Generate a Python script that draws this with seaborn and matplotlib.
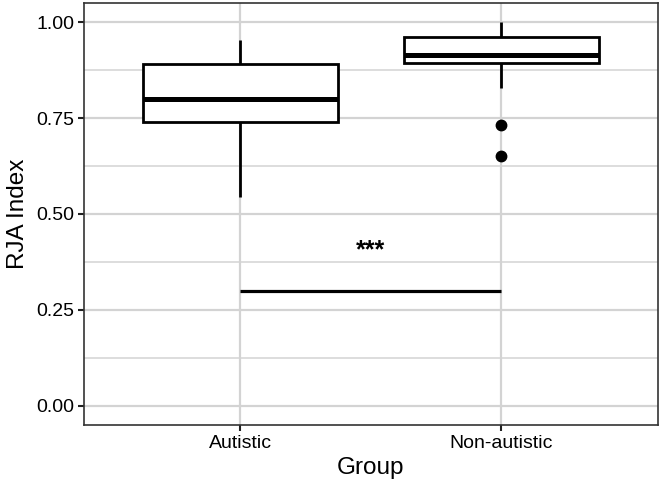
import pandas as pd
import matplotlib
matplotlib.use('Agg')
import matplotlib.pyplot as plt
from matplotlib.ticker import MultipleLocator
import seaborn as sns

# Data
groups = ['Autistic', 'Non-autistic']
autistic = [0.545, 0.68, 0.74, 0.77, 0.80, 0.85, 0.89, 0.92, 0.953]
non_autistic = [0.652, 0.733, 0.829, 0.894, 0.90, 0.91, 0.915, 0.93, 0.95,
                0.962, 0.97, 0.985, 1.0]
sig_y = 0.30
sig_label = '***'

df = pd.DataFrame({
    'Group': [groups[0]] * len(autistic) + [groups[1]] * len(non_autistic),
    'RJA': autistic + non_autistic,
})

sns.set_theme(style='white')
plt.rcParams['font.family'] = ['Liberation Sans', 'DejaVu Sans']

fig = plt.figure(figsize=(6.6, 4.88), dpi=100)
ax = fig.add_axes([0.127, 0.129, 0.870, 0.865])

sns.boxplot(data=df, x='Group', y='RJA', order=groups, ax=ax,
            width=0.75, color='white', saturation=1, linecolor='black',
            linewidth=2.0, showcaps=False,
            medianprops=dict(linewidth=3.6, color='black'),
            flierprops=dict(marker='o', markersize=7.5, markerfacecolor='black',
                            markeredgecolor='black'))

# significance bar
ax.plot([0, 1], [sig_y, sig_y], color='black', lw=2.3, solid_capstyle='butt')
ax.text(0.5, sig_y + 0.105, sig_label, ha='center', va='center',
        fontsize=18, fontweight='bold', color='black')

ax.set_xlim(-0.6, 1.6)
ax.set_ylim(-0.05, 1.05)
ax.yaxis.set_major_locator(MultipleLocator(0.25))
ax.yaxis.set_minor_locator(MultipleLocator(0.125))
ax.set_yticks([0, 0.25, 0.5, 0.75, 1.0])
ax.set_yticklabels(['0.00', '0.25', '0.50', '0.75', '1.00'])

ax.set_axisbelow(True)
ax.grid(which='major', axis='both', color='#d3d3d3', lw=1.6)
ax.grid(which='minor', axis='y', color='#d3d3d3', lw=1.1)

ax.tick_params(axis='both', which='major', length=4, width=1.5, color='#222222',
               labelsize=14, labelcolor='black', pad=3,
               left=True, bottom=True)
ax.tick_params(axis='y', which='minor', length=0)
for s in ax.spines.values():
    s.set_color('#333333')
    s.set_linewidth(1.2)

ax.set_xlabel('Group', fontsize=17.5, labelpad=4, color='black')
ax.set_ylabel('RJA Index', fontsize=17.5, labelpad=5, color='black')

fig.savefig('out.png', dpi=100)
